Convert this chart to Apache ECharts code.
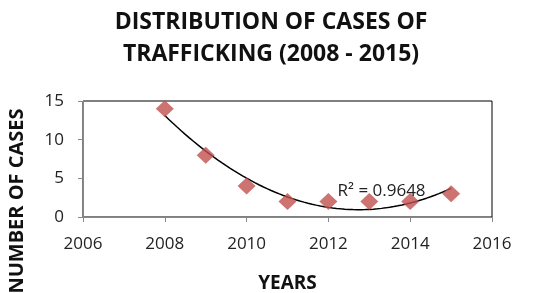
<!DOCTYPE html>
<html>
<head>
<meta charset="utf-8">
<script src="https://cdn.jsdelivr.net/npm/echarts@6/dist/echarts.min.js"></script>
<style>
  html, body { margin: 0; padding: 0; background: #fff; }
  #chart { width: 542px; height: 293px; }
</style>
</head>
<body>
<div id="chart"></div>
<script>
  // values
  let years = [2008, 2009, 2010, 2011, 2012, 2013, 2014, 2015]
  let cases = [14, 8, 4, 2, 2, 2, 2, 3]
  let rSquaredText = 'R² = 0.9648'

  // 2nd order least squares trendline (like the excel one)
  function polyFit2 (xs, ys) {
    let n = xs.length
    let s = [0, 0, 0, 0, 0]
    let t = [0, 0, 0]
    for (let i = 0; i < n; i++) {
      let x = xs[i] - xs[0]
      for (let k = 0; k < 5; k++) s[k] += Math.pow(x, k)
      for (let k = 0; k < 3; k++) t[k] += Math.pow(x, k) * ys[i]
    }
    let m = [[s[0], s[1], s[2], t[0]], [s[1], s[2], s[3], t[1]], [s[2], s[3], s[4], t[2]]]
    for (let i = 0; i < 3; i++) {
      for (let j = i + 1; j < 3; j++) {
        let f = m[j][i] / m[i][i]
        for (let k = i; k < 4; k++) m[j][k] -= f * m[i][k]
      }
    }
    let c = [0, 0, 0]
    for (let i = 2; i >= 0; i--) {
      let v = m[i][3]
      for (let k = i + 1; k < 3; k++) v -= m[i][k] * c[k]
      c[i] = v / m[i][i]
    }
    return c
  }

  let coef = polyFit2(years, cases)
  let trend = []
  for (let i = 0; i <= 70; i++) {
    let x = years[0] + (years[years.length - 1] - years[0]) * i / 70
    let d = x - years[0]
    trend.push([x, coef[0] + coef[1] * d + coef[2] * d * d])
  }

  let chart = echarts.init(document.getElementById('chart'))
  let options = {
    animation: false,
    title: {
      text: 'DISTRIBUTION OF CASES OF\nTRAFFICKING (2008 - 2015)',
      left: 'center',
      top: 1,
      textStyle: {
        fontFamily: 'Open Sans',
        fontWeight: 'bold',
        fontSize: 23,
        lineHeight: 32,
        color: '#111'
      }
    },
    grid: {
      left: 83,
      right: 50,
      top: 101,
      bottom: 76,
      outerBoundsMode: 'none',
      show: true,
      borderColor: '#000',
      borderWidth: 1
    },
    xAxis: {
      type: 'value',
      min: 2006,
      max: 2016,
      interval: 2,
      name: 'YEARS',
      nameLocation: 'middle',
      nameGap: 57,
      nameTextStyle: { fontFamily: 'Open Sans', fontWeight: 'bold', fontSize: 19, color: '#111' },
      axisLine: { lineStyle: { color: '#888' } },
      axisTick: { show: true, length: 5, lineStyle: { color: '#888' } },
      axisLabel: {
        fontFamily: 'Open Sans',
        fontSize: 17,
        color: '#222',
        margin: 19,
        formatter: function (v) { return String(v) }
      },
      splitLine: { show: false }
    },
    yAxis: {
      type: 'value',
      min: 0,
      max: 15,
      interval: 5,
      name: 'NUMBER OF CASES',
      nameLocation: 'middle',
      nameGap: 56,
      nameTextStyle: { fontFamily: 'Open Sans', fontWeight: 'bold', fontSize: 20, color: '#111', padding: [0, 0, 0, -84] },
      axisLine: { show: true, lineStyle: { color: '#888' } },
      axisTick: { show: true, length: 5, lineStyle: { color: '#888' } },
      axisLabel: { fontFamily: 'Open Sans', fontSize: 17, color: '#222', margin: 19 },
      splitLine: { show: false }
    },
    series: [
      {
        name: 'trend',
        type: 'line',
        data: trend,
        showSymbol: false,
        smooth: false,
        lineStyle: { color: '#000', width: 1.5 },
        z: 2,
        markPoint: {
          symbol: 'rect',
          symbolSize: 0,
          data: [{ coord: [2013.3, 3.3] }],
          label: {
            show: true,
            formatter: rSquaredText,
            fontFamily: 'Open Sans',
            fontSize: 17,
            color: '#222'
          }
        }
      },
      {
        name: 'cases',
        type: 'scatter',
        symbol: 'diamond',
        symbolSize: [18, 17],
        itemStyle: { color: '#C0504D' },
        data: years.map(function (y, i) { return [y, cases[i]] }),
        z: 3
      }
    ]
  }
  chart.setOption(options)
</script>
</body>
</html>
